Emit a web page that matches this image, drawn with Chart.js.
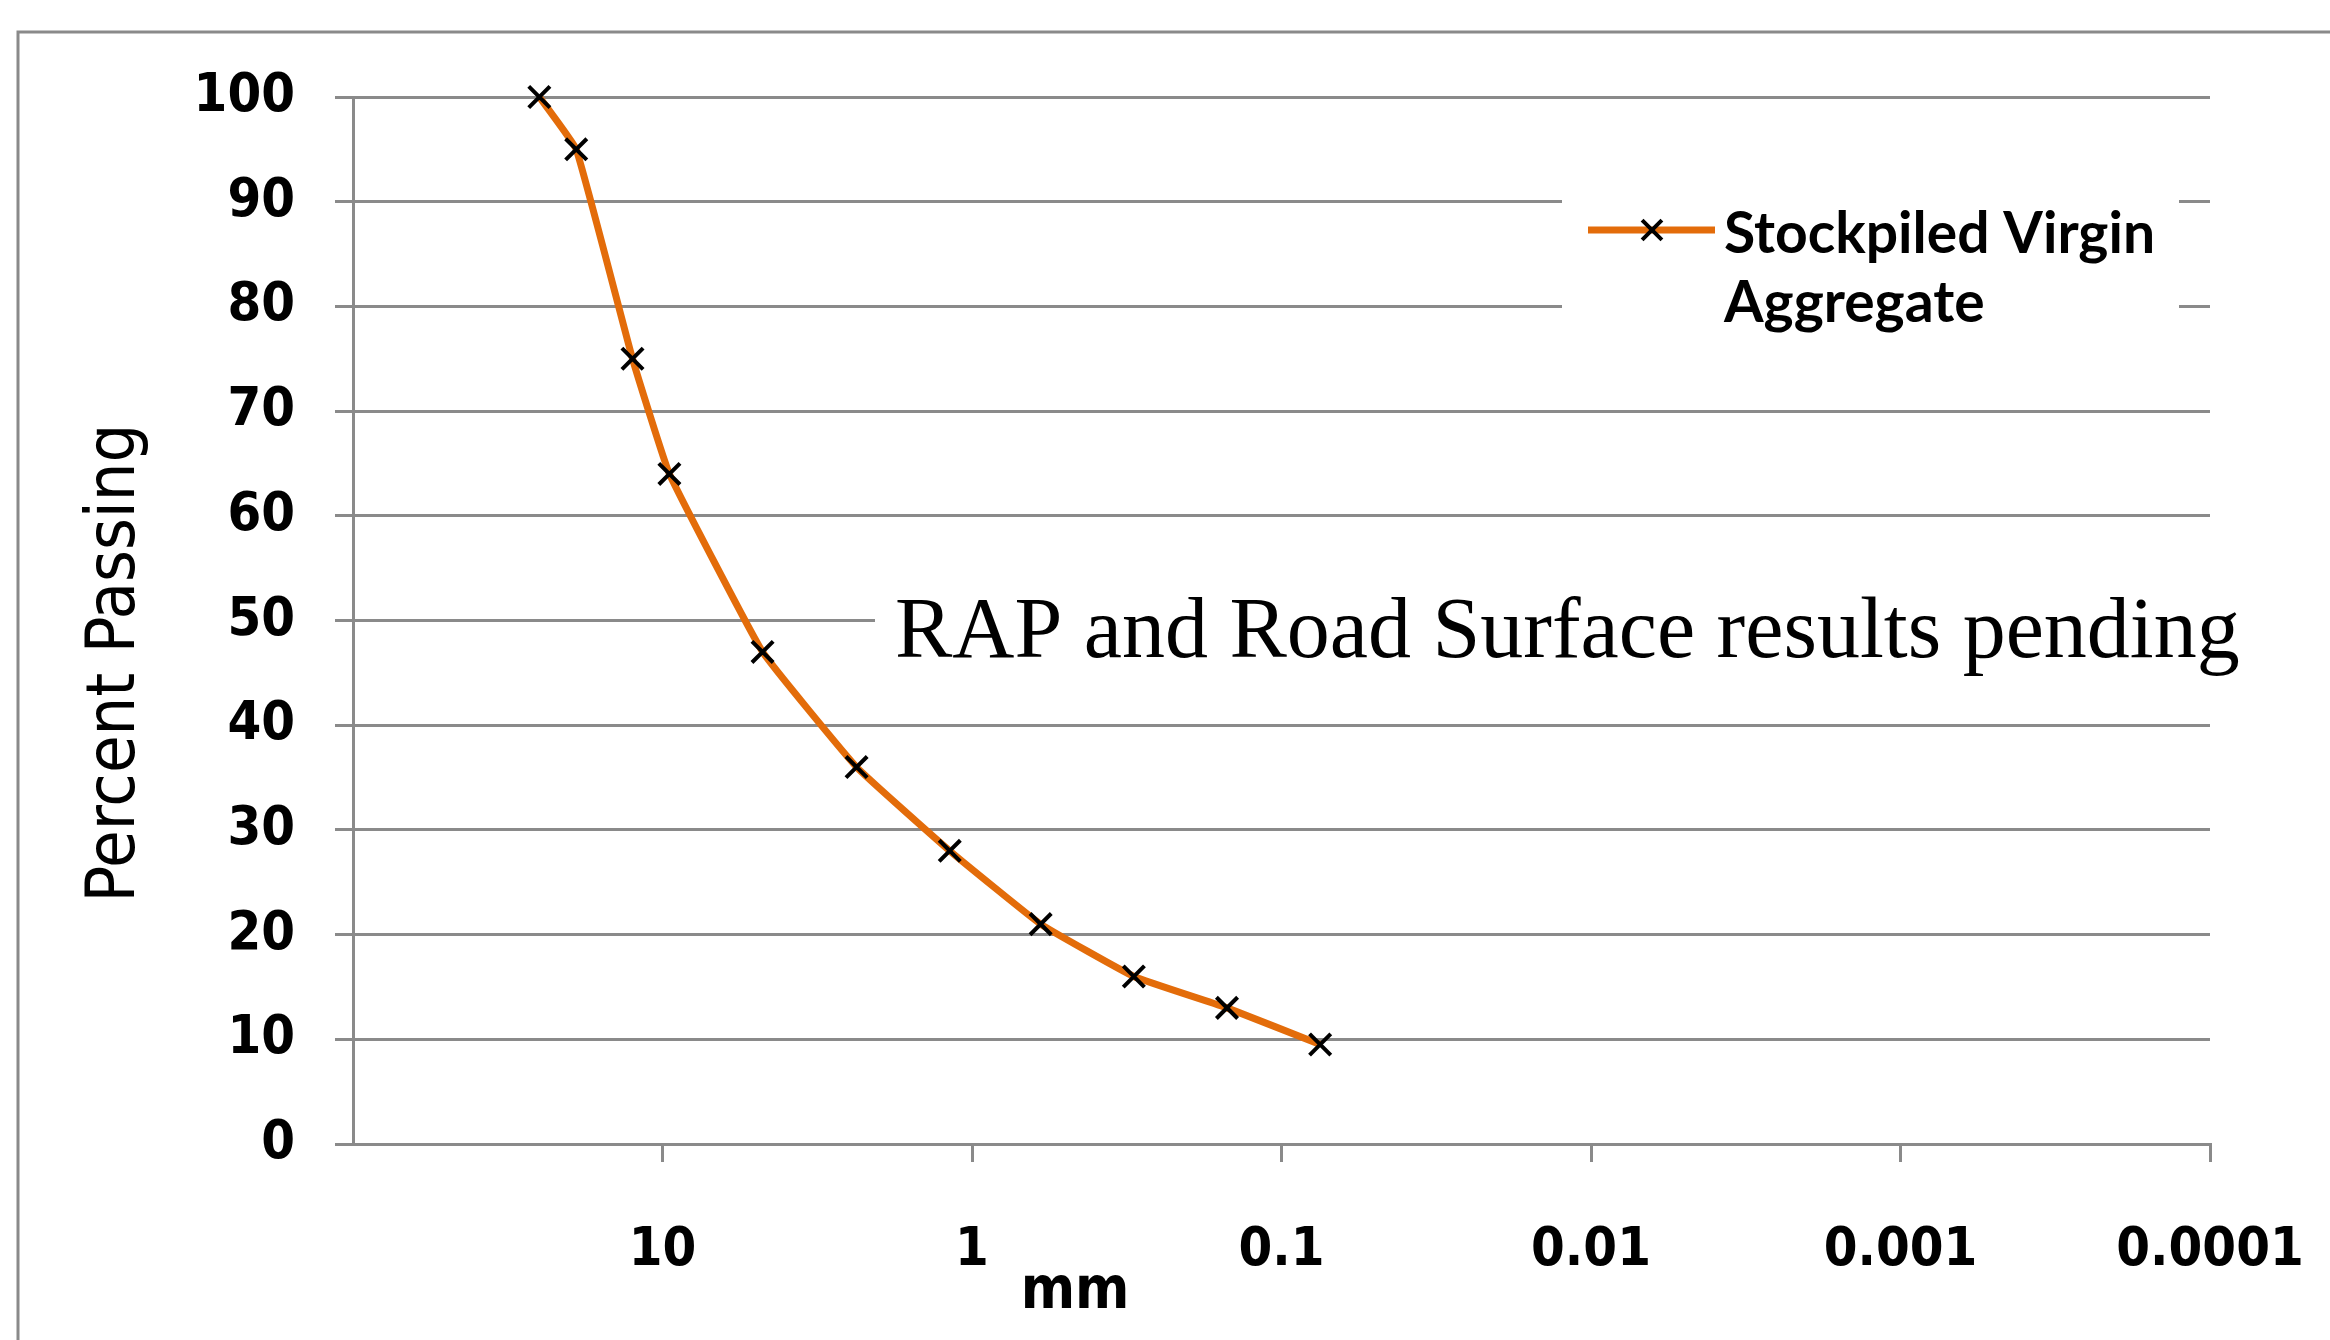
<!DOCTYPE html>
<html lang="en">
<head>
    <meta charset="UTF-8">
    <title>Gradation - Stockpiled Virgin Aggregate</title>
    <script src="https://cdn.jsdelivr.net/npm/chart.js@4.4.1/dist/chart.umd.min.js"></script>
    <style>
        body {
            margin: 0;
            padding: 0;
            background-color: #ffffff;
        }

        .chart-container {
            position: relative;
            width: 2330px;
            height: 1340px;
        }
    </style>
</head>
<body>
    <div class="chart-container">
        <canvas id="gradation-chart"></canvas>
    </div>

    <script>
        // Sieve sizes (mm) and percent passing
        const sieveSizes = [25, 19, 12.5, 9.5, 4.75, 2.36, 1.18, 0.6, 0.3, 0.15, 0.075];
        const percentPassing = [100, 95, 75, 64, 47, 36, 28, 21, 16, 13, 9.5];

        const seriesName = ['Stockpiled Virgin', 'Aggregate'];
        const xTickValues = [10, 1, 0.1, 0.01, 0.001, 0.0001];
        const xTickLabels = ['10', '1', '0.1', '0.01', '0.001', '0.0001'];
        const xTitle = 'mm';
        const yTitle = 'Percent Passing';
        const noteText = 'RAP and Road Surface results pending';

        const gridGray = '#8a8a8a';
        const lineOrange = '#e36c0a';
        const sansFamily = "'DejaVu Sans Condensed', 'DejaVu Sans', sans-serif";

        // frame, titles, legend and note are drawn by hand
        const extrasPlugin = {
            id: 'extras',
            beforeDraw(chart) {
                const ctx = chart.ctx;
                ctx.save();
                ctx.fillStyle = '#ffffff';
                ctx.fillRect(0, 0, chart.width, chart.height);
                ctx.strokeStyle = gridGray;
                ctx.lineWidth = 3;
                ctx.strokeRect(18, 32, chart.width + 40, chart.height + 40);
                ctx.restore();
            },
            beforeDatasetsDraw(chart) {
                const ctx = chart.ctx;
                ctx.save();

                // note box
                ctx.fillStyle = '#ffffff';
                ctx.fillRect(875, 580, 1375, 110);
                ctx.fillStyle = '#000000';
                ctx.font = "86px 'Liberation Serif', serif";
                ctx.textBaseline = 'alphabetic';
                ctx.textAlign = 'left';
                ctx.fillText(noteText, 895, 657);

                // legend box
                ctx.fillStyle = '#ffffff';
                ctx.fillRect(1562, 140, 617, 220);
                ctx.strokeStyle = lineOrange;
                ctx.lineWidth = 7;
                ctx.beginPath();
                ctx.moveTo(1588, 230);
                ctx.lineTo(1715, 230);
                ctx.stroke();
                ctx.strokeStyle = '#000000';
                ctx.lineWidth = 4;
                Chart.helpers.drawPoint(ctx, {pointStyle: 'crossRot', radius: 14, borderWidth: 4}, 1652, 230);
                ctx.fillStyle = '#000000';
                ctx.font = "bold 57px Lato, sans-serif";
                ctx.fillText(seriesName[0], 1724, 253);
                ctx.fillText(seriesName[1], 1724, 322);

                // axis titles
                ctx.font = 'bold 58px ' + sansFamily;
                ctx.textAlign = 'center';
                ctx.textBaseline = 'middle';
                ctx.fillText(xTitle, 1075, 1293);

                ctx.translate(116, 663);
                ctx.rotate(-Math.PI / 2);
                ctx.font = '68px ' + sansFamily;
                ctx.fillText(yTitle, 0, 0);
                ctx.restore();
            }
        };

        const gradationChart = new Chart(
            document.getElementById('gradation-chart'),
            {
                type: 'line',
                data: {
                    datasets: [{
                        label: seriesName.join(' '),
                        data: sieveSizes.map((s, i) => ({ x: s, y: percentPassing[i] })),
                        borderColor: lineOrange,
                        borderWidth: 7,
                        tension: 0.1,
                        pointStyle: 'crossRot',
                        pointRadius: 15,
                        pointBorderColor: '#000000',
                        pointBackgroundColor: '#000000',
                        pointBorderWidth: 4,
                        clip: false
                    }]
                },
                options: {
                    responsive: true,
                    maintainAspectRatio: false,
                    devicePixelRatio: 1,
                    animation: false,
                    layout: {
                        padding: { top: 97, right: 120, left: 0, bottom: 0 }
                    },
                    plugins: {
                        legend: { display: false },
                        tooltip: { enabled: false }
                    },
                    scales: {
                        x: {
                            type: 'logarithmic',
                            reverse: true,
                            min: 0.0001,
                            max: 100,
                            afterBuildTicks(scale) {
                                scale.ticks = xTickValues.map(v => ({ value: v }));
                            },
                            afterFit(scale) {
                                scale.height = 196;
                                scale.paddingLeft = 0;
                                scale.paddingRight = 0;
                            },
                            grid: {
                                drawOnChartArea: false,
                                drawTicks: true,
                                tickLength: 18,
                                color: gridGray,
                                lineWidth: 3
                            },
                            border: { display: true, color: gridGray, width: 3 },
                            ticks: {
                                autoSkip: false,
                                maxRotation: 0,
                                padding: 57,
                                color: '#000000',
                                font: { family: sansFamily, size: 54, weight: 'bold' },
                                callback: function(value, index) {
                                    return xTickLabels[index];
                                }
                            }
                        },
                        y: {
                            min: 0,
                            max: 100,
                            afterFit(scale) {
                                scale.width = 353;
                            },
                            grid: {
                                tickLength: 18,
                                color: gridGray,
                                lineWidth: 3
                            },
                            border: { display: true, color: gridGray, width: 3 },
                            ticks: {
                                stepSize: 10,
                                padding: 40,
                                color: '#000000',
                                font: { family: sansFamily, size: 54, weight: 'bold' }
                            }
                        }
                    }
                },
                plugins: [extrasPlugin]
            }
        );
    </script>
</body>
</html>
